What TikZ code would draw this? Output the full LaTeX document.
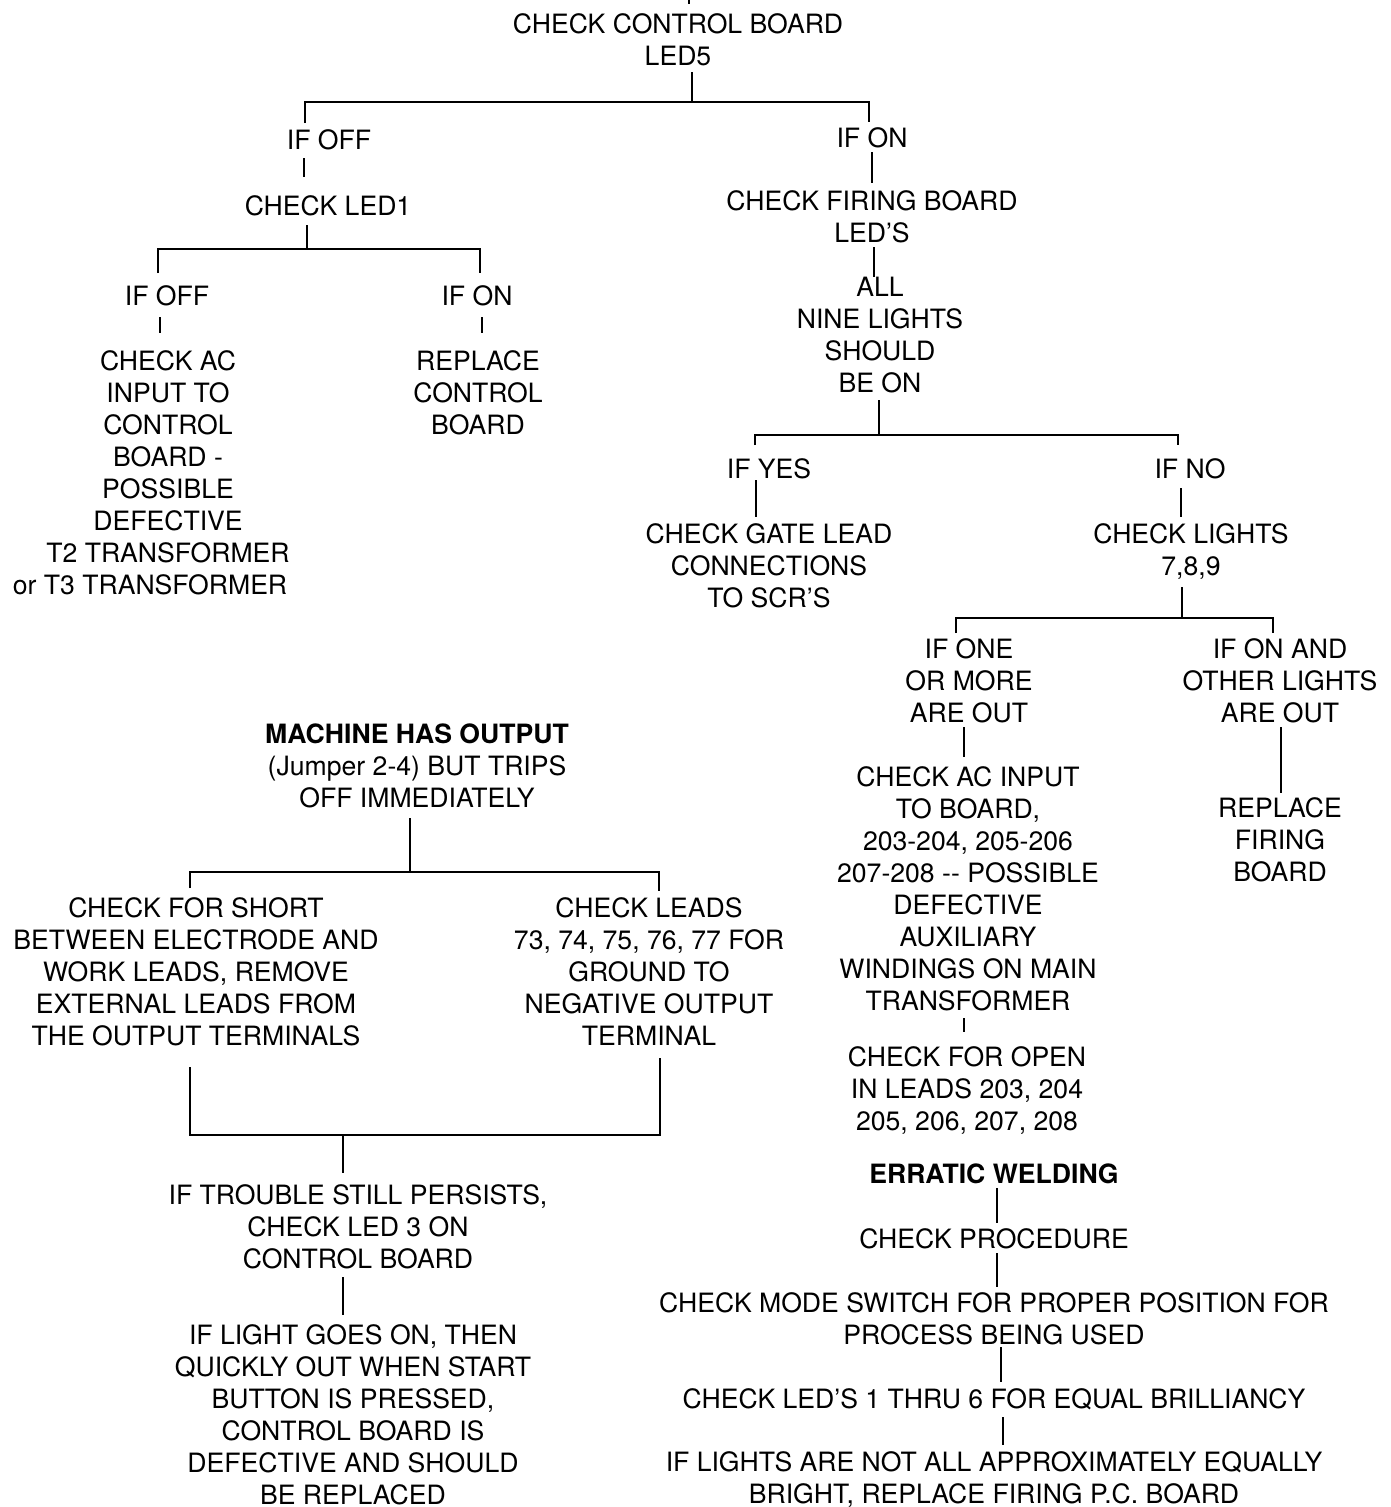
\documentclass[tikz,border=0pt]{standalone}
\usepackage{fontspec}
\setmainfont{TeX Gyre Heros}
\begin{document}
\begin{tikzpicture}[x=1pt,y=-1pt,
  txt/.style={align=center, inner sep=0pt, anchor=base, font=\fontsize{26.6}{32}\selectfont},
  conn/.style={draw=black, line width=1.3pt}]
\path[use as bounding box, fill=white] (0,0) rectangle (1390,1507);

% ---------- text nodes (positioned at the baseline of their last line) ----------
\node[txt] (top) at (678,65) {CHECK CONTROL BOARD\\LED5};
\node[txt] (ifoffA) at (329,149) {IF OFF};
\node[txt] (ifonA) at (872,147) {IF ON};
\node[txt] (led1) at (328,215) {CHECK LED1};
\node[txt] (ifoffB) at (167,305) {IF OFF};
\node[txt] (ifonB) at (477,305) {IF ON};
\node[txt] (acinA) at (168,594) {CHECK AC\\INPUT TO\\CONTROL\\BOARD -\\POSSIBLE\\DEFECTIVE\\T2 TRANSFORMER\\or T3 TRANSFORMER\hspace*{36pt}};
\node[txt] (repcb) at (478,434) {REPLACE\\CONTROL\\BOARD};
\node[txt] (firing) at (872,242) {CHECK FIRING BOARD\\LED'S};
\node[txt] (nine) at (880,392) {ALL\\NINE LIGHTS\\SHOULD\\BE ON};
\node[txt] (ifyes) at (769,478) {IF YES};
\node[txt] (ifno) at (1190,478) {IF NO};
\node[txt] (gate) at (769,607) {CHECK GATE LEAD\\CONNECTIONS\\TO SCR'S};
\node[txt] (lights) at (1191,575) {CHECK LIGHTS\\7,8,9};
\node[txt] (oneout) at (969,722) {IF ONE\\OR MORE\\ARE OUT};
\node[txt] (onand) at (1280,722) {IF ON AND\\OTHER LIGHTS\\ARE OUT};
\node[txt] (acinB) at (968,1010) {CHECK AC INPUT\\TO BOARD,\\203-204, 205-206\\207-208 -{}- POSSIBLE\\DEFECTIVE\\AUXILIARY\\WINDINGS ON MAIN\\TRANSFORMER};
\node[txt] (open) at (967,1130) {CHECK FOR OPEN\\IN LEADS 203, 204\\205, 206, 207, 208};
\node[txt] (repfb) at (1280,881) {REPLACE\\FIRING\\BOARD};
\node[txt, font=\fontsize{26.6}{32}\selectfont\bfseries] (erratic) at (994,1183) {ERRATIC WELDING};
\node[txt] (proc) at (994,1248) {CHECK PROCEDURE};
\node[txt] (mode) at (994,1344) {CHECK MODE SWITCH FOR PROPER POSITION FOR\\PROCESS BEING USED};
\node[txt] (leds) at (994,1408) {CHECK LED'S 1 THRU 6 FOR EQUAL BRILLIANCY};
\node[txt] (bright) at (994,1503) {IF LIGHTS ARE NOT ALL APPROXIMATELY EQUALLY\\BRIGHT, REPLACE FIRING P.C. BOARD};
\node[txt] (machine) at (417,807) {\textbf{MACHINE HAS OUTPUT}\\(Jumper 2-4) BUT TRIPS\\OFF IMMEDIATELY};
\node[txt] (short) at (196,1045) {CHECK FOR SHORT\\BETWEEN ELECTRODE AND\\WORK LEADS, REMOVE\\EXTERNAL LEADS FROM\\THE OUTPUT TERMINALS};
\node[txt] (leads) at (649,1045) {CHECK LEADS\\73, 74, 75, 76, 77 FOR\\GROUND TO\\NEGATIVE OUTPUT\\TERMINAL};
\node[txt] (persist) at (358,1268) {IF TROUBLE STILL PERSISTS,\\CHECK LED 3 ON\\CONTROL BOARD};
\node[txt] (goes) at (353,1504) {IF LIGHT GOES ON, THEN\\QUICKLY OUT WHEN START\\BUTTON IS PRESSED,\\CONTROL BOARD IS\\DEFECTIVE AND SHOULD\\BE REPLACED};

% ---------- connector end points ----------
\coordinate (topin) at (689,0);
\coordinate (topinE) at (689,4);
\coordinate (topout) at (692,72);
\coordinate (busA) at (692,102);
\coordinate (busAl) at (305,102);
\coordinate (busAr) at (869,102);
\coordinate (ifoffAin) at (305,123);
\coordinate (ifonAin) at (869,122);
\coordinate (ifoffAout) at (304,158);
\coordinate (led1in) at (304,177);
\coordinate (ifonAout) at (872,152);
\coordinate (firingin) at (872,183);
\coordinate (led1out) at (307,225);
\coordinate (busB) at (307,249);
\coordinate (busBl) at (158,249);
\coordinate (busBr) at (480,249);
\coordinate (ifoffBin) at (158,273);
\coordinate (ifonBin) at (480,273);
\coordinate (ifoffBout) at (160,317);
\coordinate (acinAin) at (160,333);
\coordinate (ifonBout) at (482,317);
\coordinate (repcbin) at (482,333);
\coordinate (firingout) at (874,247);
\coordinate (ninein) at (874,277);
\coordinate (nineout) at (879,400);
\coordinate (busC) at (879,435);
\coordinate (busCl) at (755,435);
\coordinate (busCr) at (1178,435);
\coordinate (ifyesin) at (755,445);
\coordinate (ifnoin) at (1178,445);
\coordinate (ifyesout) at (756,480);
\coordinate (gatein) at (756,517);
\coordinate (ifnoout) at (1181,488);
\coordinate (lightsin) at (1181,517);
\coordinate (lightsout) at (1182,587);
\coordinate (busD) at (1182,618);
\coordinate (busDl) at (956,618);
\coordinate (busDr) at (1273,618);
\coordinate (oneoutin) at (956,633);
\coordinate (onandin) at (1273,633);
\coordinate (oneoutout) at (964,727);
\coordinate (acinBin) at (964,757);
\coordinate (onandout) at (1281,727);
\coordinate (repfbin) at (1281,793);
\coordinate (acinBout) at (964,1018);
\coordinate (openin) at (964,1032);
\coordinate (erraticout) at (997,1188);
\coordinate (procin) at (997,1223);
\coordinate (procout) at (997,1253);
\coordinate (modein) at (997,1287);
\coordinate (modeout) at (1001,1347);
\coordinate (ledsin) at (1001,1382);
\coordinate (ledsout) at (1003,1417);
\coordinate (brightin) at (1003,1445);
\coordinate (machineout) at (410,818);
\coordinate (busE) at (410,872);
\coordinate (busEl) at (190,872);
\coordinate (busEr) at (659,872);
\coordinate (shortin) at (190,888);
\coordinate (leadsin) at (659,891);
\coordinate (shortout) at (190,1067);
\coordinate (leadsout) at (660,1058);
\coordinate (busFl) at (190,1135);
\coordinate (busFr) at (660,1135);
\coordinate (busF) at (343,1135);
\coordinate (persistin) at (343,1173);
\coordinate (persistout) at (343,1277);
\coordinate (goesin) at (343,1315);

% ---------- connectors ----------
\draw[conn] (topin) -- (topinE);
\draw[conn] (topout) -- (busA);
\draw[conn] (ifoffAin) -- (busAl) -- (busAr) -- (ifonAin);
\draw[conn] (ifoffAout) -- (led1in);
\draw[conn] (ifonAout) -- (firingin);
\draw[conn] (led1out) -- (busB);
\draw[conn] (ifoffBin) -- (busBl) -- (busBr) -- (ifonBin);
\draw[conn] (ifoffBout) -- (acinAin);
\draw[conn] (ifonBout) -- (repcbin);
\draw[conn] (firingout) -- (ninein);
\draw[conn] (nineout) -- (busC);
\draw[conn] (ifyesin) -- (busCl) -- (busCr) -- (ifnoin);
\draw[conn] (ifyesout) -- (gatein);
\draw[conn] (ifnoout) -- (lightsin);
\draw[conn] (lightsout) -- (busD);
\draw[conn] (oneoutin) -- (busDl) -- (busDr) -- (onandin);
\draw[conn] (oneoutout) -- (acinBin);
\draw[conn] (onandout) -- (repfbin);
\draw[conn] (acinBout) -- (openin);
\draw[conn] (erraticout) -- (procin);
\draw[conn] (procout) -- (modein);
\draw[conn] (modeout) -- (ledsin);
\draw[conn] (ledsout) -- (brightin);
\draw[conn] (machineout) -- (busE);
\draw[conn] (shortin) -- (busEl) -- (busEr) -- (leadsin);
\draw[conn] (shortout) -- (busFl) -- (busFr) -- (leadsout);
\draw[conn] (busF) -- (persistin);
\draw[conn] (persistout) -- (goesin);
\end{tikzpicture}
\end{document}
